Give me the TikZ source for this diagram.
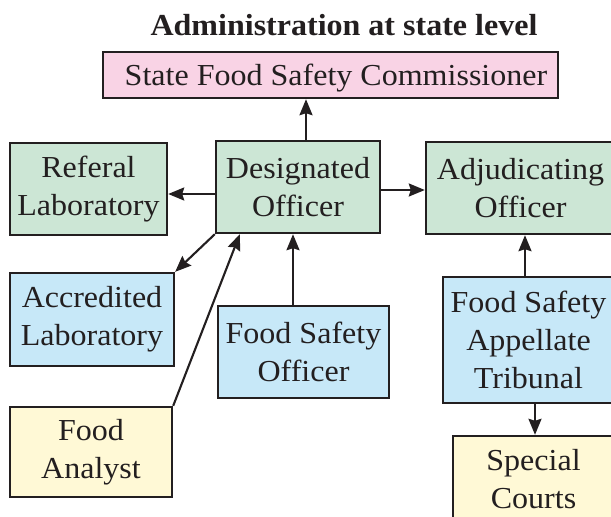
\documentclass[tikz,border=0pt]{standalone}
\usepackage{fontspec}
\setmainfont{Liberation Serif}[FakeStretch=1.05]
\usetikzlibrary{arrows.meta}
\definecolor{bordc}{HTML}{231F20}
\definecolor{greenc}{HTML}{CCE6D5}
\definecolor{pinkc}{HTML}{F9D3E5}
\definecolor{bluec}{HTML}{C7E8F8}
\definecolor{yellowc}{HTML}{FFF9D6}
\tikzset{
  box/.style={draw=bordc, line width=2.4pt, align=center, inner sep=0pt,
    font=\fontsize{30.5}{38}\selectfont, text=bordc},
  arr/.style={draw=bordc, line width=2.1pt, -{Stealth[length=16pt,width=13pt,inset=2pt]}},
  conn/.style={draw=bordc, line width=2.1pt}
}
\begin{document}
\begin{tikzpicture}[x=1pt,y=-1pt]
\useasboundingbox (0,0) rectangle (611,517);
\clip (0,0) rectangle (611,517);
\fill[white] (0,0) rectangle (611,517);
% title
\node[anchor=base, inner sep=0pt, text=bordc, font=\fontsize{30.5}{36}\selectfont\bfseries] (title) at (344,35) {Administration at state level};
% boxes
\node[box, fill=pinkc, minimum width=455pt, minimum height=46pt, text depth=0pt] (sfsc) at (330.5,75) {\hspace*{11pt}State Food Safety Commissioner};
\node[box, fill=greenc, minimum width=157pt, minimum height=92pt] (ref) at (88.5,189) {Referal\\Laboratory};
\node[box, fill=greenc, minimum width=164pt, minimum height=92pt] (do) at (298,187) {Designated\\Officer};
\node[box, fill=greenc, minimum width=189pt, minimum height=92pt] (adj) at (520.5,188) {Adjudicating\\Officer};
\node[box, fill=bluec, minimum width=164pt, minimum height=93pt] (acc) at (92,319.5) {Accredited\\Laboratory};
\node[box, fill=bluec, minimum width=171pt, minimum height=92pt] (fso) at (303.5,352) {Food Safety\\Officer};
\node[box, fill=bluec, minimum width=171pt, minimum height=126pt] (fsat) at (528.5,340) {Food Safety\\Appellate\\Tribunal};
\node[box, fill=yellowc, minimum width=162pt, minimum height=90pt] (fa) at (91,452) {Food\\Analyst};
\node[box, fill=yellowc, minimum width=161pt, minimum height=86pt] (sc) at (533.5,479) {Special\\Courts};
% connectors
\draw[arr] ([xshift=8pt]do.north) -- ([xshift=8pt]do.north |- sfsc.south);
\draw[arr] ([yshift=-7pt]do.west) -- ([yshift=-7pt]do.west -| ref.east);
\draw[arr] ([yshift=-3pt]do.east) -- ([yshift=-3pt]do.east -| adj.west);
\draw[arr] (do.south west) -- (acc.north east);
\draw[arr] (fa.north east) -- ([xshift=25pt]do.south west);
\draw[arr] ([xshift=-10.5pt]fso.north) -- ([xshift=-10.5pt]fso.north |- do.south);
\draw[arr] ([xshift=-3.5pt]fsat.north) -- ([xshift=-3.5pt]fsat.north |- adj.south);
\draw[arr] ([xshift=6.5pt]fsat.south) -- ([xshift=6.5pt]fsat.south |- sc.north);
\end{tikzpicture}
\end{document}
